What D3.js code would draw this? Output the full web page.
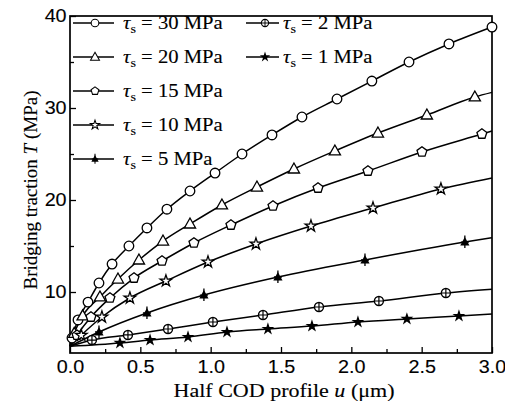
<!DOCTYPE html>
<html>
<head>
<meta charset="utf-8">
<script src="https://cdn.jsdelivr.net/npm/d3@7"></script>
<style>
  html, body { margin: 0; padding: 0; background: #fff; }
  svg { display: block; font-family: "Liberation Serif", "Times New Roman", serif; }
  text { stroke: #000; stroke-width: 0.12; fill: #000; }
</style>
</head>
<body>
<svg id="chart" width="505" height="404"></svg>
<script>
// ----- Data -----
const uTicks = [0, 0.5, 1, 1.5, 2, 2.5, 3];
const uMinor = [0.25, 0.75, 1.25, 1.75, 2.25, 2.75];
const tTicks = [10, 20, 30, 40];
const tMinor = [15, 25, 35];

const tauValues = [30, 20, 15, 10, 5, 2, 1];
const markerTypes = ["circle", "triangle", "pentagon", "star", "triCross", "circleCross", "starFilled"];

// every curve leaves the origin at the same traction and runs to u = 3.0
const startT = 4.1;
const endT = [38.8, 31.7, 27.5, 22.4, 15.9, 10.3, 7.6];

// marker points [u, T]
const tau30 = [[0.014, 5.0], [0.057, 6.96], [0.128, 8.9], [0.206, 10.98], [0.299, 13.04],
  [0.419, 15.0], [0.547, 16.96], [0.689, 19.0], [0.853, 20.98], [1.031, 22.93],
  [1.223, 25.0], [1.436, 27.07], [1.649, 29.02], [1.898, 30.98], [2.146, 32.93],
  [2.41, 35.0], [2.694, 36.96], [3.0, 38.8]];
const tau20 = [[0.03, 5.5], [0.09, 7.4], [0.213, 9.46], [0.341, 11.41], [0.49, 13.48],
  [0.661, 15.54], [0.853, 17.39], [1.08, 19.46], [1.329, 21.41], [1.592, 23.37],
  [1.883, 25.33], [2.189, 27.28], [2.537, 29.24], [2.878, 31.2]];
const tau15 = [[0.05, 5.3], [0.149, 7.28], [0.284, 9.35], [0.455, 11.52], [0.654, 13.37],
  [0.881, 15.33], [1.144, 17.28], [1.443, 19.35], [1.763, 21.3], [2.118, 23.15],
  [2.502, 25.22], [2.928, 27.17]];
const tau10 = [[0.08, 5.3], [0.227, 7.28], [0.426, 9.35], [0.682, 11.2], [0.981, 13.26],
  [1.322, 15.22], [1.713, 17.17], [2.154, 19.13], [2.637, 21.2]];
const tau5 = [[0.206, 5.65], [0.547, 7.72], [0.952, 9.67], [1.478, 11.63],
  [2.097, 13.48], [2.807, 15.43]];
const tau2 = [[0.156, 4.78], [0.412, 5.33], [0.697, 5.98], [1.016, 6.74], [1.372, 7.5],
  [1.77, 8.37], [2.196, 9.02], [2.672, 9.89]];
const tau1 = [[0.355, 4.46], [0.569, 4.78], [0.839, 5.11], [1.116, 5.65], [1.407, 5.98],
  [1.72, 6.3], [2.047, 6.74], [2.395, 7.07], [2.765, 7.39]];

const seriesPoints = [tau30, tau20, tau15, tau10, tau5, tau2, tau1];

// ----- Layout -----
const svg = d3.select("#chart");
const x = d3.scaleLinear().domain([0, 3]).range([70, 492]);
const y = d3.scaleLinear().domain([3.37, 40]).range([353, 16]);
const STRETCH = "scale(1.13,1)";   // the scanned type is a little wide

// ----- Marker glyphs -----
function drawMarker(g, type, cx, cy, k = 1) {
  const m = g.append("g").attr("transform", `translate(${cx},${cy}) scale(${k})`);
  const sw = 1.3;
  if (type === "circle") {
    m.append("circle").attr("r", 4.8).attr("fill", "#fff").attr("stroke", "#000").attr("stroke-width", sw);
  } else if (type === "triangle") {
    m.append("path").attr("d", "M0,-6L5.6,4L-5.6,4Z")
      .attr("fill", "#fff").attr("stroke", "#000").attr("stroke-width", sw);
  } else if (type === "pentagon") {
    const pts = d3.range(5).map(i => {
      const a = -Math.PI / 2 + i * 2 * Math.PI / 5;
      return [5.2 * Math.cos(a), 5.2 * Math.sin(a)];
    });
    m.append("path").attr("d", "M" + pts.join("L") + "Z")
      .attr("fill", "#fff").attr("stroke", "#000").attr("stroke-width", sw);
  } else if (type === "star") {
    m.append("path").attr("d", d3.symbol(d3.symbolStar, 42)())
      .attr("fill", "#fff").attr("stroke", "#000").attr("stroke-width", sw);
  } else if (type === "triCross") {
    m.append("path").attr("d", "M0,-5L4.6,3.5L-4.6,3.5Z").attr("fill", "#000");
    m.append("path").attr("d", "M0,-6.5V6M-4,0H4")
      .attr("stroke", "#000").attr("stroke-width", 1.3);
  } else if (type === "circleCross") {
    m.append("circle").attr("r", 4.5).attr("fill", "#fff").attr("stroke", "#000").attr("stroke-width", 1.4);
    m.append("path").attr("d", "M0,-4.5V4.5M-4.5,0H4.5")
      .attr("stroke", "#000").attr("stroke-width", 1.2);
  } else if (type === "starFilled") {
    m.append("path").attr("d", d3.symbol(d3.symbolStar, 52)()).attr("fill", "#000");
  }
}

// ----- Axes (ticks point inward) -----
svg.append("g").attr("transform", `translate(0,${y.range()[0]})`)
  .call(d3.axisBottom(x).tickValues(uTicks).tickSize(-6).tickPadding(8)
    .tickFormat(d3.format(".1f")));
svg.append("g").attr("transform", `translate(0,${y.range()[0]})`)
  .call(d3.axisBottom(x).tickValues(uMinor).tickSize(-4).tickFormat(""));

svg.append("g").attr("transform", `translate(${x.range()[0]},0)`)
  .call(d3.axisLeft(y).tickValues(tTicks).tickSize(-6).tickPadding(3));
svg.append("g").attr("transform", `translate(${x.range()[0]},0)`)
  .call(d3.axisLeft(y).tickValues(tMinor).tickSize(-4).tickFormat(""));

svg.selectAll(".domain").remove();
svg.selectAll(".tick line").attr("stroke", "#000").attr("stroke-width", 1.3);
svg.selectAll(".tick text").attr("fill", "#000").attr("font-size", 17.5)
  .attr("transform", STRETCH);

// frame
svg.append("rect")
  .attr("x", x.range()[0]).attr("y", y.range()[1])
  .attr("width", x.range()[1] - x.range()[0])
  .attr("height", y.range()[0] - y.range()[1])
  .attr("fill", "none").attr("stroke", "#000").attr("stroke-width", 1.7);

// ----- Curves -----
const line = d3.line().x(d => x(d[0])).y(d => y(d[1])).curve(d3.curveMonotoneX);
const plotG = svg.append("g");
seriesPoints.forEach((pts, i) => {
  const path = [[0, startT], ...pts];
  if (pts[pts.length - 1][0] < 3) path.push([3, endT[i]]);
  plotG.append("path").attr("d", line(path))
    .attr("fill", "none").attr("stroke", "#000").attr("stroke-width", 1.5);
});
seriesPoints.forEach((pts, i) => {
  pts.forEach(p => drawMarker(plotG, markerTypes[i], x(p[0]), y(p[1])));
});

// ----- Legend -----
const legendG = svg.append("g");
tauValues.forEach((tau, i) => {
  const col = i < 5 ? 0 : 1;
  const row = i < 5 ? i : i - 5;
  const ly = 23 + row * 34;
  const x0 = col === 0 ? 73 : 246;
  const mx = col === 0 ? 95 : 265;
  const x1 = col === 0 ? 114 : 279;
  const tx = col === 0 ? 123 : 283;
  legendG.append("line").attr("x1", x0).attr("x2", x1).attr("y1", ly).attr("y2", ly)
    .attr("stroke", "#000").attr("stroke-width", 1.5);
  drawMarker(legendG, markerTypes[i], mx, ly, 0.8);
  const t = legendG.append("g").attr("transform", `translate(${tx},${ly + 6}) ${STRETCH}`)
    .append("text").attr("font-size", 18.3);
  t.append("tspan").attr("font-style", "italic").text("τ");
  t.append("tspan").attr("font-size", 12.5).attr("dy", 4).text("s");
  t.append("tspan").attr("dy", -4).text(` = ${tau} MPa`);
});

// ----- Axis titles -----
const xt = svg.append("g").attr("transform", `translate(284,397) ${STRETCH}`)
  .append("text").attr("text-anchor", "middle").attr("font-size", 19.5);
xt.append("tspan").text("Half COD profile ");
xt.append("tspan").attr("font-style", "italic").text("u");
xt.append("tspan").text(" (μm)");

const yt = svg.append("text").attr("transform", "translate(37,190) rotate(-90)")
  .attr("text-anchor", "middle").attr("font-size", 19);
yt.append("tspan").text("Bridging traction ");
yt.append("tspan").attr("font-style", "italic").text("T");
yt.append("tspan").text(" (MPa)");
</script>
</body>
</html>
